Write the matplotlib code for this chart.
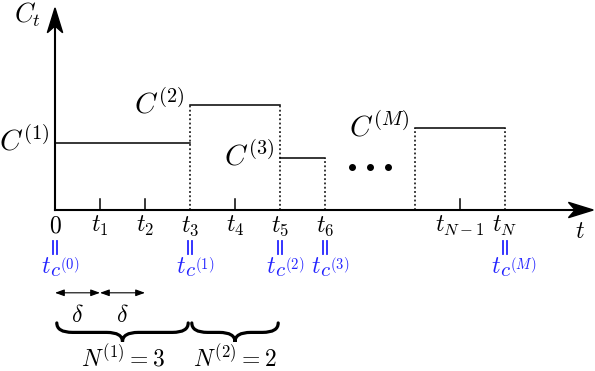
import matplotlib
matplotlib.use("Agg")
import matplotlib.pyplot as plt
from matplotlib.path import Path
from matplotlib.patches import PathPatch, Polygon

plt.rcParams['mathtext.fontset'] = 'cm'

# segments of constant C_t (in units of delta)
seg_start = [0, 3, 5, 8]
seg_end = [3, 5, 6, 10]
seg_level = [1.5, 2.33, 1.16, 1.82]
seg_label = ['$C^{(1)}$', '$C^{(2)}$', '$C^{(3)}$', '$C^{(M)}$']

# time grid labels
grid_pos = [0, 1, 2, 3, 4, 5, 6, 9, 10]
grid_label = ['$0$', '$t_1$', '$t_2$', '$t_3$', '$t_4$', '$t_5$', '$t_6$',
              '$t_{N-1}$', '$t_N$']

# change points  t_{c^{(k)}}
change_pos = [0, 3, 5, 6, 10]
change_sub = ['$c^{(0)}$', '$c^{(1)}$', '$c^{(2)}$', '$c^{(3)}$', '$c^{(M)}$']

# delta arrows and groups
delta_pos = [0, 1, 2]
group_start = [0, 3]
group_end = [3, 5]
group_label = ['$N^{(1)} = 3$', '$N^{(2)} = 2$']

fig = plt.figure(figsize=(5.95, 3.71), dpi=100)
ax = fig.add_axes([0, 0, 1, 1])
ax.set_xlim(-55 / 45, 540 / 45)
ax.set_ylim(-161 / 45, 210 / 45)
ax.axis('off')

blue = '#2424ff'
fs = 17


def stealth(tip, direction, length=0.55, half=0.17, notch=0.15):
    tx, ty = tip
    dx, dy = direction
    px, py = -dy, dx
    bx, by = tx - dx * length, ty - dy * length
    pts = [(tx, ty),
           (bx + px * half, by + py * half),
           (bx + dx * notch, by + dy * notch),
           (bx - px * half, by - py * half)]
    ax.add_patch(Polygon(pts, closed=True, color='black', zorder=5))


def brace(x0, x1, y0, h, lw=2.3):
    xm = (x0 + x1) / 2
    r = 0.35
    ym = y0 - h / 2
    verts = [(x0, y0), (x0, ym), (x0 + r, ym),
             (xm - r, ym), (xm, ym), (xm, y0 - h),
             (xm, ym), (xm + r, ym),
             (x1 - r, ym), (x1, ym), (x1, y0)]
    codes = [Path.MOVETO, Path.CURVE3, Path.CURVE3,
             Path.LINETO, Path.CURVE3, Path.CURVE3,
             Path.CURVE3, Path.CURVE3,
             Path.LINETO, Path.CURVE3, Path.CURVE3]
    ax.add_patch(PathPatch(Path(verts, codes), fill=False, lw=lw,
                           color='black', capstyle='round'))


# axes
ax.plot([0, 11.6], [0, 0], color='black', lw=1.5)
ax.plot([0, 0], [0, 4.2], color='black', lw=1.5)
stealth((11.96, 0), (1, 0))
stealth((0, 4.49), (0, 1))
ax.text(-0.62, 4.33, '$C_t$', fontsize=19, ha='center', va='center')
ax.text(11.67, -0.62, '$t$', fontsize=fs, ha='center', va='baseline')

# level segments
for s, e, lv, lab in zip(seg_start, seg_end, seg_level, seg_label):
    ax.plot([s, e], [lv, lv], color='black', lw=1.1)
    ax.text(s - 0.13, lv + 0.03, lab, fontsize=21, ha='right', va='center')

# dotted boundaries
bounds = sorted(set(seg_start[1:] + seg_end))
for b in bounds:
    h = max([lv for s, e, lv in zip(seg_start, seg_end, seg_level) if s <= b <= e])
    ax.plot([b, b], [0, h], color='black', lw=1.1, ls=(0, (1.2, 1.6)))

# small ticks
dotted = set(bounds)
for p in grid_pos:
    if p not in dotted and p != 0:
        ax.plot([p, p], [0, 0.24], color='black', lw=1.1)

# grid labels
for p, lab in zip(grid_pos, grid_label):
    ax.text(p, -0.49, lab, fontsize=fs, ha='center', va='baseline')

# change point labels: rotated "=" then t_{c^{(k)}}
for p, sub in zip(change_pos, change_sub):
    for dx in (-0.05, 0.05):
        ax.plot([p + dx, p + dx], [-0.69, -0.97], color=blue, lw=1.3)
    ax.text(p - 0.1, -1.4, '$t$', fontsize=fs, ha='right', va='baseline',
            color=blue)
    ax.text(p - 0.11, -1.5, sub, fontsize=15, ha='left', va='baseline',
            color=blue)

# delta arrows
for a, b in zip(delta_pos[:-1], delta_pos[1:]):
    ax.annotate('', xy=(b, -1.84), xytext=(a, -1.84),
                arrowprops=dict(arrowstyle='<|-|>,head_length=0.55,head_width=0.2',
                                color='black', lw=0.8, shrinkA=0, shrinkB=0))
    ax.text((a + b) / 2, -2.49, r'$\delta$', fontsize=fs, ha='center', va='baseline')

# braces for groups
for s, e, lab in zip(group_start, group_end, group_label):
    brace(s + 0.04, e - 0.04, -2.51, 0.42)
    ax.text((s + e) / 2, -3.49, lab, fontsize=fs, ha='center', va='baseline')

# ellipsis dots
ax.plot([6.6, 7.0, 7.4], [0.96, 0.96, 0.96], 'o', color='black', ms=4)

fig.savefig('out.png', dpi=100)
